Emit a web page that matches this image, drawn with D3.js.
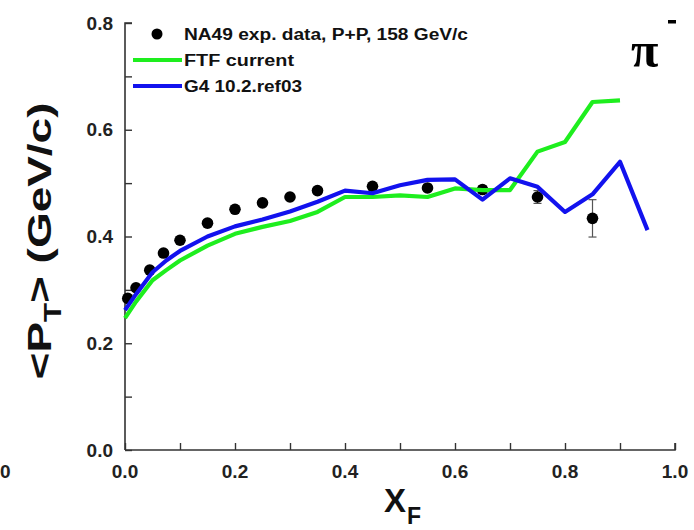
<!DOCTYPE html>
<html><head><meta charset="utf-8">
<script src="https://cdn.jsdelivr.net/npm/d3@7"></script>
<style>body{margin:0;background:#fff}svg{display:block}</style>
</head><body>
<script>
// ---- data ----
const dataX   = [0.005, 0.02, 0.045, 0.07, 0.1, 0.15, 0.2, 0.25, 0.3, 0.35, 0.45, 0.55, 0.65, 0.75, 0.85];
const dataY   = [0.284, 0.304, 0.337, 0.369, 0.393, 0.425, 0.451, 0.463, 0.474, 0.486, 0.494, 0.491, 0.488, 0.474, 0.434];
const dataErr = [0.003, 0.003, 0.003, 0.003, 0.003, 0.003, 0.003, 0.003, 0.003, 0.003, 0.004, 0.005, 0.007, 0.012, 0.035];

const lineX = [0, 0.02, 0.05, 0.075, 0.1, 0.15, 0.2, 0.25, 0.3, 0.35, 0.4, 0.45, 0.5, 0.55, 0.6, 0.65, 0.7, 0.75, 0.8, 0.85, 0.9, 0.95];
const ftfY  = [0.247, 0.278, 0.318, 0.337, 0.355, 0.383, 0.405, 0.418, 0.429, 0.446, 0.474, 0.474, 0.477, 0.474, 0.490, 0.487, 0.487, 0.559, 0.577, 0.652, 0.655, null];
const g4Y   = [0.262, 0.292, 0.333, 0.355, 0.373, 0.400, 0.419, 0.432, 0.447, 0.465, 0.486, 0.481, 0.496, 0.506, 0.507, 0.469, 0.509, 0.493, 0.446, 0.479, 0.540, 0.412];

const xTicks = [0, 0.2, 0.4, 0.6, 0.8, 1.0];
const yTicks = [0, 0.2, 0.4, 0.6, 0.8];
const legendLabels = ["NA49 exp. data, P+P, 158 GeV/c", "FTF current", "G4 10.2.ref03"];

// ---- drawing ----
const W = 694, H = 530;
const svg = d3.select("body").append("svg").attr("width", W).attr("height", H);
const x = d3.scaleLinear().domain([0, 1]).range([125, 675]);
const y = d3.scaleLinear().domain([0, 0.8]).range([450, 23]);
const font = "'Liberation Sans', Arial, sans-serif";
const axisCol = "#333";

// y axis
const ya = svg.append("g").attr("transform", `translate(${x(0)},0)`)
  .call(d3.axisRight(y).tickValues(d3.range(0, 0.81, 0.1)).tickSize(7).tickFormat(""));
ya.select(".domain").attr("stroke", axisCol).attr("stroke-width", 1.6).attr("d", `M7,${y(0.8)}H0V${y(0)}`);
ya.selectAll(".tick line").attr("stroke", axisCol).attr("stroke-width", 1.4);
// x axis
const xa = svg.append("g").attr("transform", `translate(0,${y(0)})`)
  .call(d3.axisTop(x).tickValues(d3.range(0, 1.01, 0.1)).tickSize(7).tickFormat(""));
xa.select(".domain").attr("stroke", axisCol).attr("stroke-width", 1.6).attr("d", `M${x(0)},0H${x(1)}V-7`);
xa.selectAll(".tick line").attr("stroke", axisCol).attr("stroke-width", 1.4);

// tick labels
svg.append("g").selectAll("text").data(yTicks).join("text")
  .attr("x", 113).attr("y", d => y(d) + 6.5).attr("text-anchor", "end")
  .attr("font-family", font).attr("font-weight", "bold").attr("font-size", 19).attr("fill", "#222")
  .text(d => d3.format(".1f")(d));
svg.append("g").selectAll("text").data(xTicks).join("text")
  .attr("x", d => x(d)).attr("y", 478).attr("text-anchor", "middle")
  .attr("font-family", font).attr("font-weight", "bold").attr("font-size", 19).attr("fill", "#222")
  .text(d => d3.format(".1f")(d));

// stray label from neighbouring panel
svg.append("text").attr("x", 0).attr("y", 478).attr("font-family", font).attr("font-weight", "bold")
  .attr("font-size", 19).attr("fill", "#222").text("0");

// axis titles
const xt = svg.append("text").attr("x", 384).attr("y", 512).attr("font-family", font)
  .attr("font-weight", "bold").attr("font-size", 33).attr("fill", "#111");
xt.append("tspan").text("X");
xt.append("tspan").attr("font-size", 23).attr("dx", 1).attr("dy", 12).text("F");

const yt = svg.append("text").attr("text-anchor", "middle")
  .attr("font-family", font).attr("font-weight", "bold").attr("font-size", 34).attr("fill", "#111");
yt.append("tspan").text("<P");
yt.append("tspan").attr("font-size", 23).attr("dy", 10).text("T");
yt.append("tspan").attr("dy", -10).text("> (GeV/c)");
const ylen = yt.node().getComputedTextLength();
const ysx = 277 / ylen;
yt.attr("transform", `translate(51,241) rotate(-90) scale(${ysx},1)`);

// error bars + points (drawn beneath the model lines)
const pts = dataX.map((v, i) => ({x: v, y: dataY[i], e: dataErr[i]}));
const eb = svg.append("g").attr("stroke", "#555").attr("stroke-width", 1.2);
eb.selectAll("line.v").data(pts).join("line").attr("class", "v")
  .attr("x1", d => x(d.x)).attr("x2", d => x(d.x)).attr("y1", d => y(d.y - d.e)).attr("y2", d => y(d.y + d.e));
eb.selectAll("line.lo").data(pts).join("line").attr("class", "lo")
  .attr("x1", d => x(d.x) - 4).attr("x2", d => x(d.x) + 4).attr("y1", d => y(d.y - d.e)).attr("y2", d => y(d.y - d.e));
eb.selectAll("line.hi").data(pts).join("line").attr("class", "hi")
  .attr("x1", d => x(d.x) - 4).attr("x2", d => x(d.x) + 4).attr("y1", d => y(d.y + d.e)).attr("y2", d => y(d.y + d.e));
svg.append("g").selectAll("circle").data(pts).join("circle")
  .attr("cx", d => x(d.x)).attr("cy", d => y(d.y)).attr("r", 5.8).attr("fill", "#000");

// lines
const lineGen = d3.line().defined(d => d[1] != null).x(d => x(d[0])).y(d => y(d[1]));
svg.append("path").datum(lineX.map((v, i) => [v, ftfY[i]]))
  .attr("d", lineGen).attr("fill", "none").attr("stroke", "#1eee1e").attr("stroke-width", 4.2)
  .attr("stroke-linejoin", "round");
svg.append("path").datum(lineX.map((v, i) => [v, g4Y[i]]))
  .attr("d", lineGen).attr("fill", "none").attr("stroke", "#1212ee").attr("stroke-width", 4.2)
  .attr("stroke-linejoin", "round");

// legend
const lg = svg.append("g").attr("font-family", font).attr("font-size", 16).attr("fill", "#111");
lg.append("circle").attr("cx", 157).attr("cy", 34).attr("r", 5.5).attr("fill", "#000");
lg.append("line").attr("x1", 133).attr("x2", 182).attr("y1", 60).attr("y2", 60).attr("stroke", "#1eee1e").attr("stroke-width", 4);
lg.append("line").attr("x1", 133).attr("x2", 182).attr("y1", 86).attr("y2", 86).attr("stroke", "#1212ee").attr("stroke-width", 4);
lg.selectAll("text").data(legendLabels).join("text")
  .attr("x", 184).attr("y", (d, i) => [40, 66, 92][i])
  .attr("font-weight", "bold").attr("stroke", "none")
  .attr("textLength", (d, i) => [284, 110, 118][i]).attr("lengthAdjust", "spacingAndGlyphs")
  .text(d => d);

// particle label
svg.append("text").attr("x", 631).attr("y", 67).attr("font-family", "'Liberation Serif', 'Times New Roman', serif")
  .attr("font-weight", "bold").attr("font-size", 50).attr("fill", "#000").text("π");
svg.append("rect").attr("x", 668).attr("y", 20).attr("width", 8).attr("height", 3.5).attr("fill", "#000");
</script>
</body></html>
